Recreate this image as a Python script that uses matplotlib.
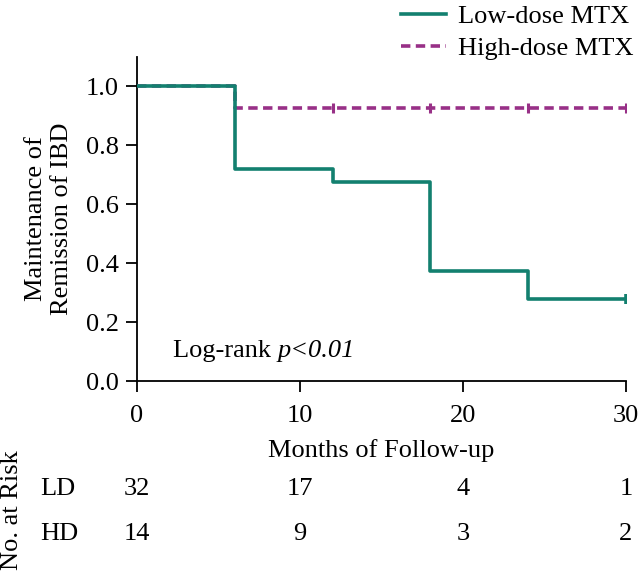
import matplotlib.pyplot as plt
import matplotlib.transforms as mtransforms

plt.rcParams['font.family'] = ['Liberation Serif', 'DejaVu Serif']

# step curves (time, survival)
ld_t = [0, 6, 12, 18, 24, 30]
ld_s = [1.0, 0.72, 0.675, 0.375, 0.28, 0.28]
hd_t = [0, 6, 30]
hd_s = [1.0, 0.927, 0.927]
hd_cens_t = [12, 18, 24, 30]
ld_cens_t = [30]

risk_t = [0, 10, 20, 30]
risk_ld = [32, 17, 4, 1]
risk_hd = [14, 9, 3, 2]

teal = '#13806f'
purple = '#983087'
fs = 19

fig = plt.figure(figsize=(6.4, 5.74), dpi=100)
ax = fig.add_axes([0.214, 0.336, 0.764, 0.565])

ax.step(hd_t, hd_s, where='post', color=purple, lw=2.6, ls=(0, (2.6, 1.5)),
        label='High-dose MTX', zorder=2)
ax.step(ld_t, ld_s, where='post', color=teal, lw=2.6, label='Low-dose MTX', zorder=3)
ax.plot(hd_cens_t, [hd_s[-1]] * len(hd_cens_t), ls='none', marker='|', ms=7,
        mew=2.2, color=purple, zorder=2)
ax.plot(ld_cens_t, [ld_s[-1]] * len(ld_cens_t), ls='none', marker='|', ms=7,
        mew=2.6, color=teal, zorder=3)

ax.set_xlim(0, 30)
ax.set_ylim(0, 1.1)
ax.set_xticks([0, 10, 20, 30])
ax.set_yticks([0.0, 0.2, 0.4, 0.6, 0.8, 1.0])
ax.set_yticklabels(['0.0', '0.2', '0.4', '0.6', '0.8', '1.0'])
for s in ['top', 'right']:
    ax.spines[s].set_visible(False)
for s in ['left', 'bottom']:
    ax.spines[s].set_linewidth(1.3)
ax.tick_params(direction='out', length=8, width=1.3, labelsize=fs)
ax.tick_params(axis='y', pad=5)
ax.tick_params(axis='x', pad=9)
ax.set_xlabel('Months of Follow-up', fontsize=fs, labelpad=9)
ax.set_ylabel('Maintenance of\nRemission of IBD', fontsize=fs, labelpad=9,
              linespacing=1.25)

t = ax.text(2.2, 0.065, 'Log-rank ', fontsize=fs, va='bottom')
ax.annotate('p<0.01', xy=(1, 0), xycoords=t, va='bottom', fontsize=fs,
            style='italic')

h, l = ax.get_legend_handles_labels()
fig.legend([h[1], h[0]], [l[1], l[0]], loc='upper right',
           bbox_to_anchor=(1.027, 1.033), frameon=False, fontsize=fs,
           handlelength=1.7, handletextpad=0.45, labelspacing=0.32)

# number at risk table
tr = mtransforms.blended_transform_factory(ax.transData, fig.transFigure)
y_ld = 1 - 489 / 574
y_hd = 1 - 534 / 574
for x, a, b in zip(risk_t, risk_ld, risk_hd):
    fig.text(x, y_ld, str(a), transform=tr, ha='center', va='center', fontsize=fs)
    fig.text(x, y_hd, str(b), transform=tr, ha='center', va='center', fontsize=fs)
fig.text(40 / 640, y_ld, 'LD', ha='left', va='center', fontsize=fs)
fig.text(40 / 640, y_hd, 'HD', ha='left', va='center', fontsize=fs)
fig.text(12 / 640, 1 - 510 / 574, 'No. at Risk', rotation=90, ha='center',
         va='center', fontsize=fs)

fig.savefig('out.png', dpi=100)
